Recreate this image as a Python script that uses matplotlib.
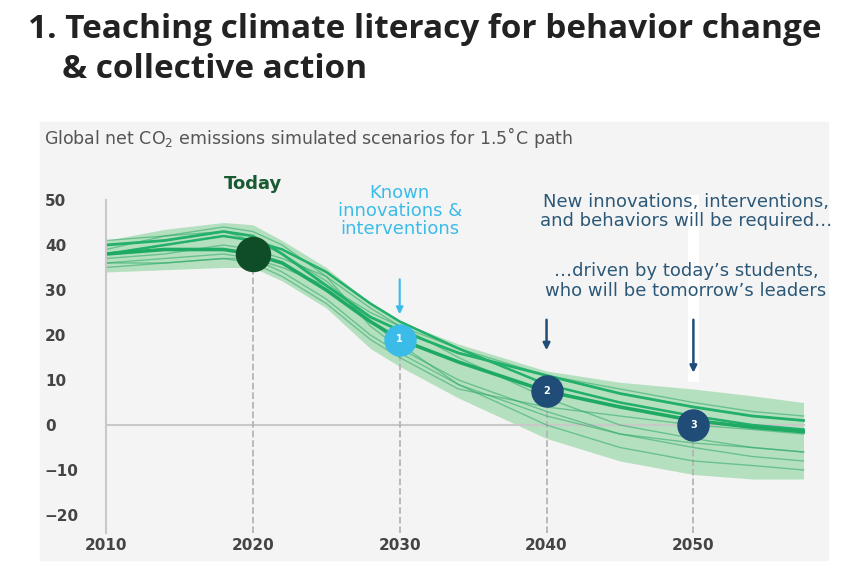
import matplotlib.pyplot as plt
from matplotlib.patches import Rectangle

years = [2010, 2014, 2018, 2020, 2022, 2025, 2028, 2030, 2034, 2040, 2045, 2050, 2054, 2057.5]
band_upper = [41, 43.5, 45, 44.5, 41, 35, 27, 23, 18, 12, 9.5, 8, 6.5, 5]
band_lower = [34, 34.5, 35, 35, 32, 26, 17, 13, 6, -3, -8, -11, -12, -12]
central = [38, 39, 39, 38, 36, 30, 23, 19, 14, 7.5, 4, 1, -0.5, -1.5]
scenarios = [
    [40, 41, 43, 42, 38, 31, 24, 21, 16, 11, 7, 4, 2, 1],
    [36, 37, 38, 37, 35, 31, 25, 22, 17, 11, 8, 5, 3, 2],
    [35, 36, 37, 37, 34, 28, 20, 16, 9, 2, -2, -4, -5, -6],
    [39, 42, 44, 43, 40, 33, 26, 22, 15, 6, 0, -3, -5, -6],
    [37, 38, 40, 39, 37, 33, 22, 17, 10, 3, -2, -5, -7, -8],
    [41, 42, 43, 41, 38, 32, 23, 18, 9, 0, -5, -8, -9, -10],
    [36, 36, 37, 36, 33, 27, 19, 15, 8, 4, 2, 0, -1, -2],
    [38, 40, 42, 41, 39, 34, 27, 23, 17, 9, 5, 2, 0, -1],
]
milestone_years = [2030, 2040, 2050]
milestone_vals = [19, 7.5, 0]
milestone_labels = ['1', '2', '3']
milestone_colors = ['#3bbce8', '#1f4d78', '#1f4d78']
today = (2020, 38)

fig = plt.figure(figsize=(8.48, 5.74), dpi=100)
fig.patches.append(Rectangle((40 / 848, 1 - 560 / 574), 788 / 848, 438 / 574,
                             transform=fig.transFigure, color='#f4f4f4', zorder=-5))

fig.text(28 / 848, 1 - 30 / 574, '1. Teaching climate literacy for behavior change',
         fontsize=24, fontweight='bold', family='Open Sans', color='#222', va='center')
fig.text(62 / 848, 1 - 70 / 574, '& collective action',
         fontsize=24, fontweight='bold', family='Open Sans', color='#222', va='center')
fig.text(44 / 848, 1 - 137 / 574, 'Global net CO$_2$ emissions simulated scenarios for 1.5˚C path',
         fontsize=12.5, color='#555', va='center')

ax = fig.add_axes([106 / 848, 1 - 533 / 574, (805 - 106) / 848, (533 - 164) / 574])
ax.set_facecolor('none')
ax.set_xlim(2010, 2057.6)
ax.set_ylim(-24, 58)

ax.fill_between(years, band_lower, band_upper, color='#a6dcb2', alpha=0.8, lw=0)
for s in scenarios:
    ax.plot(years, s, color='#2aa866', alpha=0.55, lw=1)
ax.plot(years, scenarios[0], color='#22b06a', lw=2)
ax.plot(years, scenarios[7], color='#22b06a', lw=1.8)
ax.plot(years, central, color='#1faa63', lw=2.6)
ax.axhline(0, color='#c8c8c8', lw=1.5, zorder=1)

for yr, v in zip([today[0]] + milestone_years, [today[1]] + milestone_vals):
    ax.plot([yr, yr], [-24, v], color='#b5b5b5', ls='--', lw=1.3, zorder=1)

ax.plot([2050, 2050], [11, 50], color='white', lw=8, zorder=2)
ax.scatter([today[0]], [today[1]], s=600, color='#0f4d28', zorder=5)
for yr, v, lab, c in zip(milestone_years, milestone_vals, milestone_labels, milestone_colors):
    ax.scatter([yr], [v], s=500, color=c, zorder=5)
    ax.text(yr, v, lab, color='white', fontsize=7, fontweight='bold', ha='center', va='center', zorder=6)

ax.annotate('', xy=(2030, 24), xytext=(2030, 33),
            arrowprops=dict(arrowstyle='-|>', color='#3bbce8', lw=1.5))
ax.annotate('', xy=(2040, 16), xytext=(2040, 24),
            arrowprops=dict(arrowstyle='-|>', color='#1f4d78', lw=1.8))
ax.annotate('', xy=(2050, 11), xytext=(2050, 24),
            arrowprops=dict(arrowstyle='-|>', color='#1f4d78', lw=1.8))

ax.text(2020, 53.5, 'Today', color='#1a5a32', fontsize=13, fontweight='bold', ha='center', va='center')
ax.text(2030, 47.5, 'Known\ninnovations &\ninterventions', color='#3bbce8', fontsize=13,
        ha='center', va='center', linespacing=1.0)
ax.text(2049.5, 47.5, 'New innovations, interventions,\nand behaviors will be required…',
        color='#2c5878', fontsize=13, ha='center', va='center', linespacing=1.1)
ax.text(2049.5, 32, '…driven by today’s students,\nwho will be tomorrow’s leaders',
        color='#2c5878', fontsize=13, ha='center', va='center', linespacing=1.1)

for sp in ['top', 'right', 'bottom']:
    ax.spines[sp].set_visible(False)
ax.spines['left'].set_bounds(-24, 50)
ax.spines['left'].set_color('#c8c8c8')
ax.spines['left'].set_linewidth(1.5)
ax.set_yticks([-20, -10, 0, 10, 20, 30, 40, 50])
ax.set_xticks([2010, 2020, 2030, 2040, 2050])
ax.tick_params(length=0, labelsize=11, labelcolor='#444')
ax.tick_params(axis='y', pad=44)
for t in ax.get_yticklabels():
    t.set_ha('left')
    t.set_fontweight('bold')
for t in ax.get_xticklabels():
    t.set_fontweight('bold')

fig.savefig('out.png', dpi=100)
